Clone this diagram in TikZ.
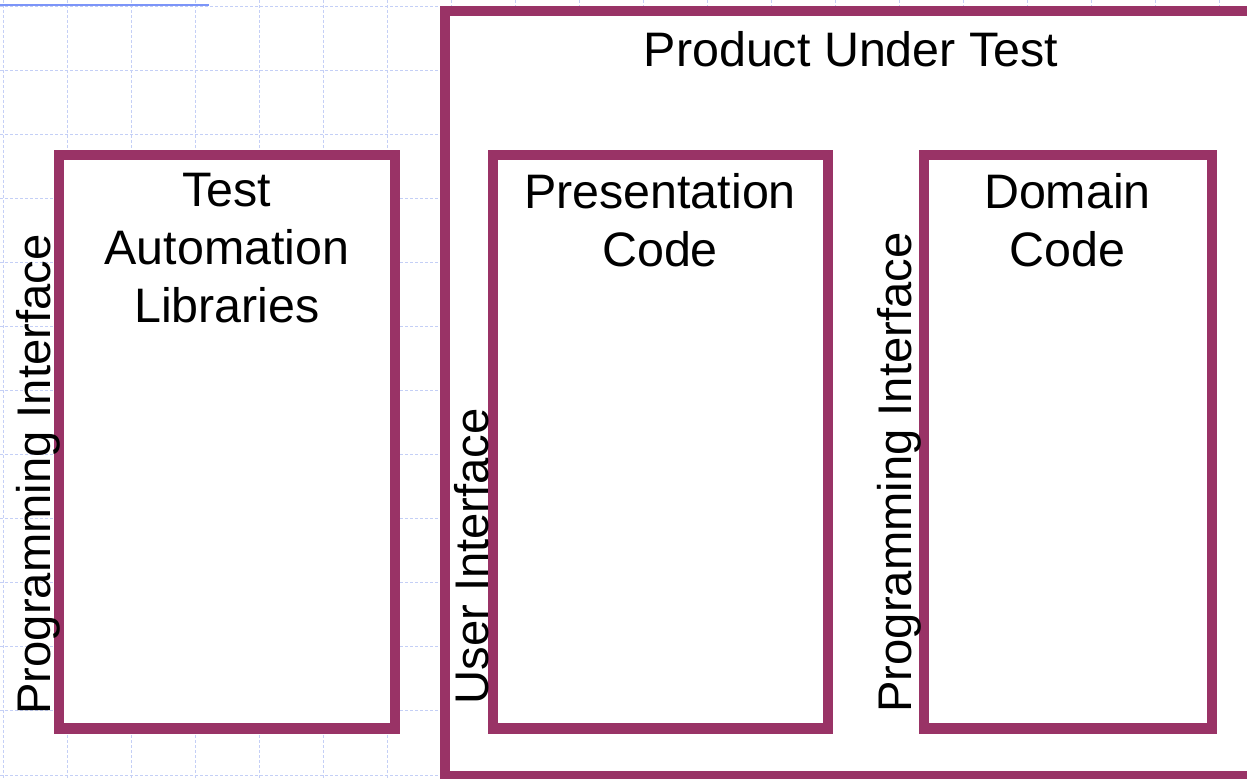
\documentclass[tikz,border=0pt]{standalone}
\usepackage{fontspec}
\setmainfont{Liberation Sans}
\usepackage{xcolor}
\usetikzlibrary{calc}

\definecolor{plum}{HTML}{993366}
\definecolor{gridblue}{HTML}{C4CFF6}
\definecolor{rulerblue}{HTML}{7C95F8}

\begin{document}
\begin{tikzpicture}[x=0.5pt, y=-0.5pt,
		box/.style={draw=plum, line width=5pt, fill=white},
		boxtext/.style={font=\fontsize{24.2}{29}\selectfont, inner sep=0pt, align=center},
		sidetext/.style={font=\fontsize{23.6}{29}\selectfont, inner sep=0pt, rotate=90, anchor=base west}]
		\def\W{1247};
		\def\H{779};
		\useasboundingbox (0,0) rectangle (\W,\H);

		% dashed grid behind everything
		\foreach \x in {3,67,...,1243}
			\draw [gridblue, line width=0.5pt, dash pattern=on 1.5pt off 1pt] (\x,0) -- (\x,\H);
		\foreach \y in {7,71,...,775}
			\draw [gridblue, line width=0.5pt, dash pattern=on 1.5pt off 1pt] (0,\y) -- (\W,\y);

		\draw [rulerblue, line width=1pt] (0,5) -- (209,5);

		\coordinate (product nw) at (445,11);
		\coordinate (product se) at (1265,776);
		\coordinate (libs nw) at (59,155.5);
		\coordinate (libs se) at (394.5,728.5);
		\coordinate (pres nw) at (492.5,155.5);
		\coordinate (pres se) at (828,728.5);
		\coordinate (domain nw) at (923.5,155.5);
		\coordinate (domain se) at (1211.5,728.5);

		\filldraw [box] (product nw) rectangle (product se);
		\filldraw [box] (libs nw) rectangle (libs se);
		\filldraw [box] (pres nw) rectangle (pres se);
		\filldraw [box] (domain nw) rectangle (domain se);

		\node [boxtext, anchor=north] (product title) at (851,31) {Product Under Test};
		\node [boxtext, anchor=north] (libs title) at (227,173) {Test\\Automation\\Libraries};
		\node [boxtext, anchor=north] (pres title) at (660,173) {Presentation\\Code};
		\node [boxtext, anchor=north] (domain title) at (1067.5,173) {Domain\\Code};

		% interface labels run up the left side of each box
		\node [sidetext] (libs api) at (50,715) {Programming Interface};
		\node [sidetext] (pres ui) at (488,705) {User Interface};
		\node [sidetext] (domain api) at (911,713) {Programming Interface};
	\end{tikzpicture}
\end{document}
